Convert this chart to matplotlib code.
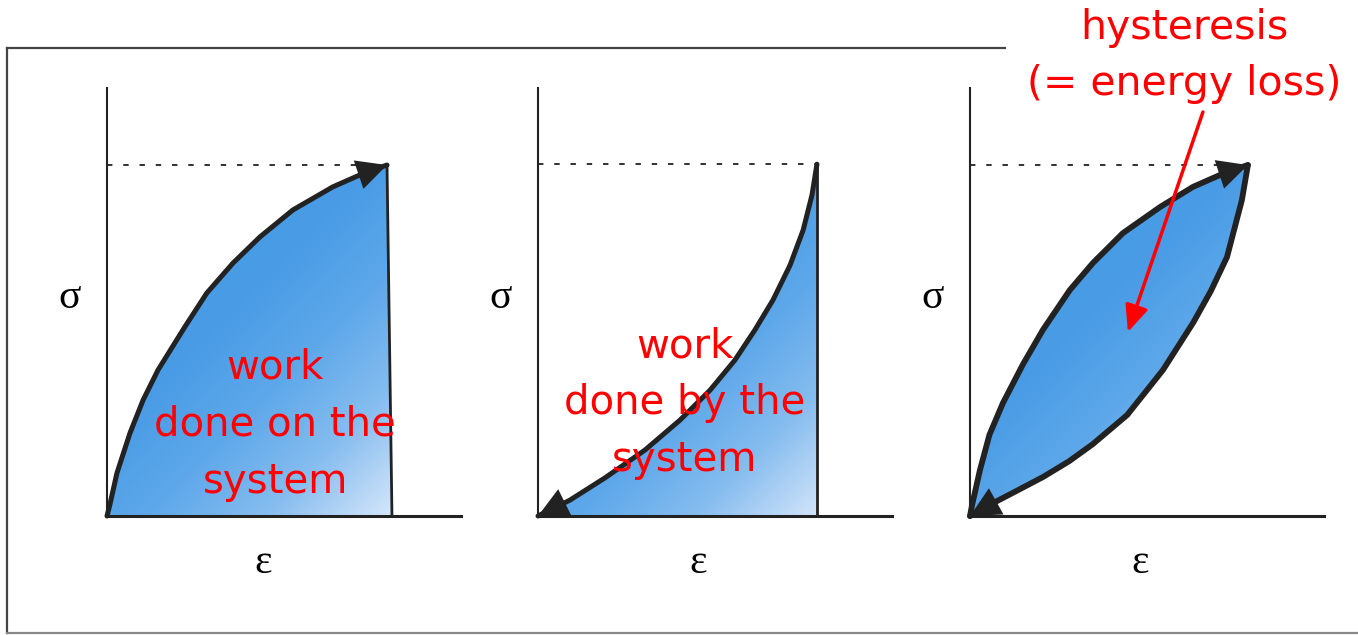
import numpy as np
import matplotlib.pyplot as plt
from matplotlib.colors import LinearSegmentedColormap
from matplotlib.patches import Polygon
from matplotlib.lines import Line2D

# strain / stress points (normalised, 0..1 of the axes)
load1_eps = [0, 0.008, 0.028, 0.065, 0.102, 0.144, 0.220, 0.282, 0.356, 0.432, 0.525, 0.638, 0.734, 0.791]
load1_sig = [0, 0.026, 0.100, 0.194, 0.271, 0.341, 0.442, 0.521, 0.591, 0.652, 0.715, 0.769, 0.804, 0.820]
unload1_eps = [0.791, 0.805]
unload1_sig = [0.820, 0]

load2_eps = [0.788, 0.788]
load2_sig = [0, 0.822]
unload2_eps = [0.788, 0.774, 0.749, 0.712, 0.664, 0.613, 0.556, 0.486, 0.401, 0.302, 0.189, 0.090, 0]
unload2_sig = [0.822, 0.750, 0.668, 0.586, 0.505, 0.435, 0.364, 0.294, 0.224, 0.154, 0.089, 0.037, 0]

load3_eps = [0, 0.006, 0.028, 0.055, 0.093, 0.150, 0.206, 0.282, 0.347, 0.432, 0.537, 0.630, 0.726, 0.785]
load3_sig = [0, 0.026, 0.107, 0.190, 0.264, 0.355, 0.435, 0.528, 0.591, 0.661, 0.722, 0.769, 0.804, 0.820]
unload3_eps = [0.785, 0.768, 0.726, 0.680, 0.630, 0.545, 0.444, 0.347, 0.280, 0.206, 0.130, 0.065, 0]
unload3_sig = [0.820, 0.738, 0.605, 0.525, 0.451, 0.341, 0.236, 0.168, 0.128, 0.091, 0.058, 0.030, 0]

labels = ["work\ndone on the\nsystem", "work\ndone by the\nsystem", ""]
label_pos = [(0.475, 0.213), (0.415, 0.263), None]
eps_x = [0.44, 0.452, 0.48]

ink = '#222222'
blue = LinearSegmentedColormap.from_list('blue', [
    (0.0, '#3f95e4'), (0.45, '#4a9ce6'), (0.6, '#5ea8ea'),
    (0.75, '#86bdef'), (0.9, '#cfe3f9'), (1.0, '#e4effc')])

fig = plt.figure(figsize=(13.58, 6.35), dpi=100)

# outer frame (left, top, bottom)
fig.add_artist(Line2D([0.0052, 0.0052], [0.003, 0.924], transform=fig.transFigure, color='#444444', lw=1.6))
fig.add_artist(Line2D([0.0052, 0.740], [0.924, 0.924], transform=fig.transFigure, color='#444444', lw=1.6))
fig.add_artist(Line2D([0.0052, 1.0], [0.003, 0.003], transform=fig.transFigure, color='#888888', lw=1.6))

lefts = [107 / 1358, 538 / 1358, 970 / 1358]
panels = [
    [(load1_eps, load1_sig), (unload1_eps, unload1_sig)],
    [(load2_eps, load2_sig), (unload2_eps, unload2_sig)],
    [(load3_eps, load3_sig), (unload3_eps, unload3_sig)],
]
arrows = [[True, False], [False, True], [True, True]]

xx, yy = np.meshgrid(np.linspace(0, 1, 300), np.linspace(0, 1, 300))
grad = (xx * 354 + (1 - yy) * 428) / 782

for i, left in enumerate(lefts):
    ax = fig.add_axes([left, (635 - 516) / 635, 354 / 1358, 428 / 635])
    ax.set_xlim(0, 1)
    ax.set_ylim(0, 1)
    ax.set_xticks([])
    ax.set_yticks([])
    for s in ['top', 'right']:
        ax.spines[s].set_visible(False)
    ax.spines['left'].set_linewidth(1.5)
    ax.spines['bottom'].set_linewidth(2.2)
    ax.spines['left'].set_color(ink)
    ax.spines['bottom'].set_color(ink)
    ax.patch.set_alpha(0)

    (ex1, sy1), (ex2, sy2) = panels[i]
    pts = np.column_stack([list(ex1) + list(ex2)[1:], list(sy1) + list(sy2)[1:]])
    poly = Polygon(pts, closed=True, facecolor='none', edgecolor='none')
    ax.add_patch(poly)
    im = ax.imshow(grad, extent=(0, 1, 0, 1), origin='lower', cmap=blue,
                   vmin=0, vmax=1, aspect='auto', zorder=1)
    im.set_clip_path(poly)

    peak = max(max(sy1), max(sy2))
    peak_x = max(max(ex1), max(ex2))
    ax.plot([0, peak_x], [peak, peak], color=ink, lw=1.3, ls=(0, (3, 6)), zorder=2)

    for (ex, sy), arr in zip(panels[i], arrows[i]):
        w = (4.2 if i == 2 else 3.6) if len(ex) > 2 else 2.0
        ax.plot(ex, sy, color=ink, lw=w, solid_joinstyle='round',
                solid_capstyle='round', zorder=3, clip_on=False)
        if arr:
            ax.annotate('', xy=(ex[-1], sy[-1]), xytext=(ex[-2], sy[-2]),
                        arrowprops=dict(arrowstyle='-|>,head_length=0.6,head_width=0.3',
                                        mutation_scale=36, color=ink, lw=0,
                                        shrinkA=0, shrinkB=0), zorder=4)

    ax.text(-0.107, 0.51, 'σ', fontsize=30, family='Liberation Serif',
            ha='center', va='center')
    ax.text(eps_x[i], -0.11, 'ε', fontsize=30, family='Liberation Serif',
            ha='center', va='center')
    if label_pos[i] is not None:
        ax.text(label_pos[i][0], label_pos[i][1], labels[i], fontsize=29, color='red',
                ha='center', va='center', linespacing=1.55, zorder=5)
    if i == 2:
        ax.annotate('', xy=(0.446, 0.43), xytext=(0.658, 0.944),
                    arrowprops=dict(arrowstyle='-|>,head_length=0.8,head_width=0.35',
                                    mutation_scale=20, color='red', lw=2.5,
                                    shrinkA=0, shrinkB=0),
                    annotation_clip=False, zorder=6)

fig.text(1184 / 1358, 1 - 56 / 635, 'hysteresis\n(= energy loss)', fontsize=29.5,
         color='red', ha='center', va='center', linespacing=1.5)

plt.savefig('out.png', dpi=100)
